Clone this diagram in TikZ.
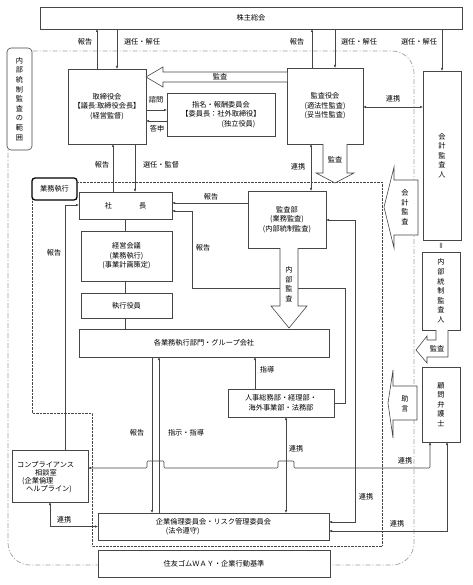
\documentclass[tikz,border=0pt]{standalone}
\usepackage{fontspec}
\setmainfont{Noto Sans CJK JP}
\usetikzlibrary{arrows.meta}
\newcommand\myfs{\fontsize{7.2}{9.5}\selectfont}
\newcommand\myvfs{\fontsize{7.2}{9.6}\selectfont}
\definecolor{lc}{RGB}{70,70,70}
\definecolor{bd}{RGB}{160,160,160}
\tikzset{
  box/.style={draw=lc, fill=white, line width=0.6pt, inner sep=0pt, outer sep=0pt, align=center, font=\myfs},
  ln/.style={draw=lc, line width=0.6pt},
  arr/.style={ln, -{Latex[length=3pt,width=2.6pt]}},
  arrr/.style={ln, {Latex[length=3pt,width=2.6pt]}-{Latex[length=3pt,width=2.6pt]}},
  hollow/.style={draw=lc, fill=white, line width=0.6pt},
  lbl/.style={font=\myfs, inner sep=0pt},
  vtext/.style={font=\myvfs, align=center, inner sep=0pt},
  scope line/.style={draw=bd, line width=0.7pt, dash pattern=on 5pt off 2pt on 1pt off 2pt},
  exec line/.style={draw=lc, line width=0.6pt, dash pattern=on 0.5pt off 0.9pt},
}
\begin{document}
\begin{tikzpicture}[x=1pt,y=-1pt]
\useasboundingbox[fill=white] (0,0) rectangle (472,585);

% scope of internal control audit
\draw[scope line, rounded corners=22pt] (8,51) rectangle (414,565);

% boxes
\node[box, minimum width=422pt, minimum height=22pt] (kabu) at (251,18) {株主総会};
\node[box, rounded corners=4pt, minimum width=25pt, minimum height=102pt, font=\myvfs] (naibu) at (19.5,99) {内\\部\\統\\制\\監\\査\\の\\範\\囲};
\node[box, minimum width=78pt, minimum height=75pt] (tori) at (107,106.5) {取締役会\\【議長:取締役会長】\\(経営監督)};
\node[box, minimum width=108pt, minimum height=43pt] (shimei) at (221,114.5) {指名・報酬委員会\\【委員長：社外取締役】\\\hspace*{35pt}(独立役員)};
\node[box, minimum width=76pt, minimum height=76pt] (kansayaku) at (325,106) {監査役会\\(適法性監査)\\(妥当性監査)};
\node[box, minimum width=38pt, minimum height=169pt, font=\myvfs] (kaikei) at (442,155.5) {会\\計\\監\\査\\人};
\node[box, minimum width=38pt, minimum height=78pt, font=\myvfs] (naibunin) at (441,291) {内\\部\\統\\制\\監\\査\\人};
\node[box, minimum width=38pt, minimum height=75pt, font=\myvfs] (komon) at (441,404.5) {顧\\問\\弁\\護\\士};
\node[lbl] (eq) at (442,245.5) {\rotatebox{90}{＝}};

% execution area (dotted)
\node[box, rounded corners=3pt, line width=1.3pt, draw=black, minimum width=45pt, minimum height=22pt] (gyomu) at (54.5,189) {業務執行};
\draw[exec line] ([yshift=7pt]gyomu.east) -- (382,182) -- (382,546) -- (92,546) -- (92,413) -- (32,413) -- (gyomu.south west);

\node[box, minimum width=93pt, minimum height=27pt] (shacho) at (125.5,205.5) {社\hspace{27pt}長};
\node[box, minimum width=91pt, minimum height=50pt] (keiei) at (126.5,256) {経営会議\\(業務執行)\\(事業計画策定)};
\node[box, minimum width=91pt, minimum height=25pt] (shikko) at (126.5,305.5) {執行役員};
\node[box, minimum width=250pt, minimum height=28pt] (kaku) at (204,343) {各業務執行部門・グループ会社};
\node[box, minimum width=78pt, minimum height=57pt] (kansabu) at (287,219.5) {監査部\\(業務監査)\\(内部統制監査)};
\node[box, minimum width=106pt, minimum height=28pt] (jinji) at (281,403) {人事総務部・経理部・\\海外事業部・法務部};
\node[box, minimum width=76pt, minimum height=52pt] (comp) at (50,476) {};
\node[lbl, anchor=west] at (17,465) {コンプライアンス};
\node[lbl, anchor=west] at (35,473) {相談室};
\node[lbl, anchor=west] at (22,481) {(企業倫理};
\node[lbl, anchor=west] at (26,489) {ヘルプライン)};
\node[box, minimum width=231pt, minimum height=27pt, align=left] (kigyo) at (213.5,526.5) {企業倫理委員会・リスク管理委員会\\\hspace*{10pt}(法令遵守)};
\node[box, minimum width=232pt, minimum height=27pt] (sumitomo) at (214,563.5) {住友ゴムＷＡＹ・企業行動基準};

% top connectors
\draw[arr] ([xshift=-10pt]tori.north) -- ([xshift=-10pt]tori.north |- kabu.south);
\draw[arr] ([xshift=10pt]tori.north |- kabu.south) -- ([xshift=10pt]tori.north);
\draw[arr] ([xshift=-13pt]kansayaku.north) -- ([xshift=-13pt]kansayaku.north |- kabu.south);
\draw[arr] ([xshift=10pt]kansayaku.north |- kabu.south) -- ([xshift=10pt]kansayaku.north);
\draw[arr] (kaikei.north |- kabu.south) -- (kaikei.north);
\node[lbl] at (85,42) {報告};
\node[lbl] at (142,42) {選任・解任};
\node[lbl] at (297,42) {報告};
\node[lbl] at (359,42) {選任・解任};
\node[lbl] at (419,42) {選任・解任};

% audit arrow kansayaku -> tori
\draw[hollow] (kansayaku.west |- 0,72) -- (163,72) -- (163,67) -- (tori.east |- 0,77) -- (163,87) -- (163,82) -- (kansayaku.west |- 0,82);
\node[lbl] at (220,77) {監査};

% shimei
\draw[arr] ([yshift=4.5pt]shimei.west -| tori.east) -- ([yshift=4.5pt]shimei.west);
\draw[arr] ([yshift=-6.5pt]shimei.west) -- ([yshift=-6.5pt]shimei.west -| tori.east);
\node[lbl] at (156,100) {諮問};
\node[lbl] at (157,129) {答申};

% renkei kansayaku-kaikei
\draw[arrr] ([yshift=-1pt]kansayaku.east) -- ([yshift=-1pt]kansayaku.east -| kaikei.west);
\node[lbl] at (393,99) {連携};

% tori - shacho
\draw[arr] ([xshift=-12.5pt]shacho.north) -- ([xshift=-12.5pt]shacho.north |- tori.south);
\draw[arr] ([xshift=9.5pt]shacho.north |- tori.south) -- ([xshift=9.5pt]shacho.north);
\node[lbl] at (102,165) {報告};
\node[lbl] at (161,165) {選任・監督};

% kansayaku - kansabu
\draw[arrr] ([xshift=24pt]kansabu.north |- kansayaku.south) -- ([xshift=24pt]kansabu.north);
\node[lbl] at (298,167) {連携};

% audit arrow down
\draw[hollow] (323,144) -- (323,173) -- (316,173) -- (335,183) -- (354,173) -- (347,173) -- (347,144);
\node[lbl] at (335,160) {監査};

% executive chain
\draw[ln] (125,219) -- (125,231);
\draw[ln] (125,281) -- (125,293);
\draw[ln] (125,318) -- (125,329);

% kansabu -> shacho
\draw[arr] ([yshift=16.5pt]kansabu.west) -- ([yshift=16.5pt]kansabu.west -| shacho.east);
\node[lbl] at (211,197) {報告};

% jinji -> shacho
\draw[arr] (jinji.east) -- (345,403) -- (345,288) -- (192,288) -- (192,211) -- ([yshift=-5.5pt]shacho.east);
\node[lbl] at (203,248) {報告};

% kansabu <-> kigyo
\draw[arrr] ([yshift=-0.5pt]kansabu.east) -- (355,220) -- (355,522) -- ([yshift=4.5pt]kigyo.east);
\node[lbl] at (366,497) {連携};

% internal audit arrow
\draw[hollow] (280,248) -- (280,306) -- (271,306) -- (289,328) -- (307,306) -- (298,306) -- (298,248);
\node[vtext] at (289,284) {内\\部\\監\\査};

% jinji -> kaku
\draw[arr] ([xshift=-26pt]jinji.north) -- ([xshift=-26pt]jinji.north |- kaku.south);
\node[lbl] at (267,370) {指導};
\draw[arrr] ([xshift=5pt]jinji.south) -- ([xshift=5pt]jinji.south |- kigyo.north);
\node[lbl] at (296,449) {連携};

% kaku <-> kigyo
\draw[arr] ([xshift=-52pt]kaku.south) -- ([xshift=-52pt]kaku.south |- kigyo.north);
\draw[arr] ([xshift=-45pt]kaku.south |- kigyo.north) -- ([xshift=-45pt]kaku.south);
\node[lbl] at (137,433) {報告};
\node[lbl] at (186,433) {指示・指導};

% compliance <-> komon with line jumps
\draw[arrr, rounded corners=1pt] ([yshift=8pt]comp.east) -- (147,468) -- (147,461) -- (164,461) -- (164,468) -- (278,468) -- (278,461) -- (294,461) -- (294,468) -- (430,468) -- ([xshift=-11pt]komon.south);
\node[lbl] at (405,461) {連携};

% compliance -> shacho
\draw[arr] ([xshift=15pt]comp.north) -- (65,205) -- (shacho.west |- 0,205);
\node[lbl] at (54,253) {報告};

% compliance <-> kigyo
\draw[arrr] (comp.south) |- (kigyo.west);
\node[lbl] at (64,520) {連携};

% kigyo <-> komon
\draw[arrr] ([yshift=-4.5pt]kigyo.east) -| ([xshift=6pt]komon.south);
\node[lbl] at (397,524) {連携};

% accounting audit arrow
\draw[hollow] (418,180) -- (394,180) -- (394,167) -- (384,207) -- (394,248) -- (394,235) -- (418,235) -- cycle;
\node[vtext] at (405,207) {会\\計\\監\\査};

% advice arrow
\draw[hollow] (417,386) -- (393,386) -- (393,370) -- (388,403) -- (393,438) -- (393,420) -- (417,420) -- cycle;
\node[vtext] at (405,404) {助\\言};

% bent audit arrow from internal control auditor
\draw[hollow] (436,330) -- (436,340) -- (427,340) -- (427,336) -- (416,350) -- (427,363) -- (427,357) -- (448,357) -- (448,330);
\node[lbl] at (437,349) {監査};
\end{tikzpicture}
\end{document}
